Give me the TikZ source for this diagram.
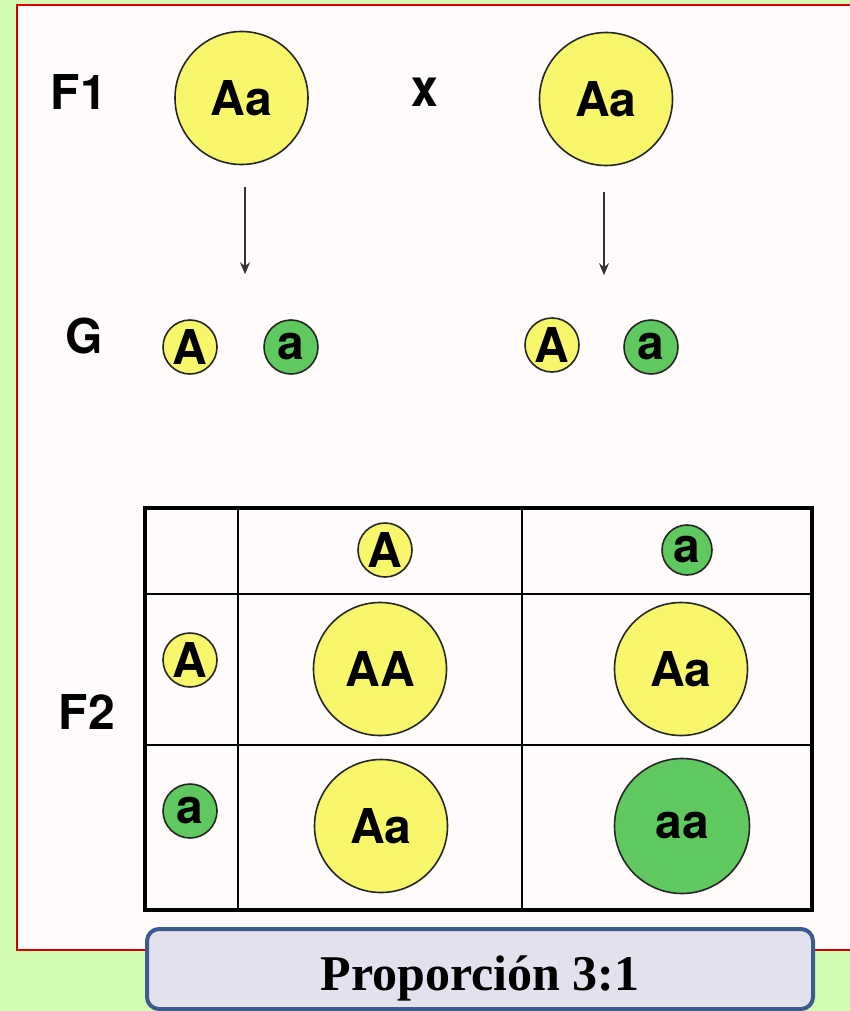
\documentclass[tikz,border=0pt]{standalone}
\usepackage{fontspec}
\usepackage{graphicx}
\setmainfont{Liberation Serif}
\setsansfont{TeX Gyre Heros}
\usetikzlibrary{arrows.meta,positioning}

\definecolor{fondo}{HTML}{D3FBB1}
\definecolor{hoja}{HTML}{FFFBFB}
\definecolor{marcorojo}{HTML}{D20000}
\definecolor{amarillo}{HTML}{F8F66A}
\definecolor{verde}{HTML}{5FC95F}
\definecolor{cajafondo}{HTML}{E4E1EE}
\definecolor{cajaborde}{HTML}{3C5A8B}

\tikzset{
  gen/.style={circle, draw=black!85, line width=0.8pt, inner sep=0pt,
    font=\sffamily\bfseries\fontsize{24}{25}\selectfont},
  grande/.style={gen, minimum size=66.5pt},
  chico/.style={gen, minimum size=27pt, font=\sffamily\bfseries\fontsize{24}{25}\selectfont},
  dom/.style={fill=amarillo},
  rec/.style={fill=verde},
  etiq/.style={font=\sffamily\bfseries\fontsize{24}{25}\selectfont},
  flecha/.style={-{Stealth[length=6pt,width=5pt]}, draw=black!80, line width=0.75pt},
  propbox/.style={draw=cajaborde, line width=2pt, fill=cajafondo, rounded corners=6pt,
    minimum width=333pt, minimum height=40pt, inner sep=0pt,
    text height=24pt, text depth=2.4pt,
    font=\bfseries\fontsize{25}{26}\selectfont},
}

\begin{document}
\begin{tikzpicture}[x=0.5pt, y=-0.5pt]
  \useasboundingbox (0,0) rectangle (850,1011);
  \clip (0,0) rectangle (850,1011);
  \fill[fondo] (0,0) rectangle (850,1011);
  \draw[marcorojo, line width=1pt, fill=hoja] (17,5) rectangle (880,950);

  % F1
  \node[etiq] (f1) at (79,92) {F1};
  \node[grande, dom] (p1) at (241.5,98) {Aa};
  \node[etiq] (cruce) at (425,92) {\scalebox{1}[1.1]{x}};
  \node[grande, dom] (p2) at (606,99) {Aa};

  % gametos
  \node[etiq] (g) at (84,336) {G};
  \node[chico, dom] (g1A) at (190,347) {A};
  \node[chico, rec] (g1a) at (291,347) {a};
  \node[chico, dom] (g2A) at (552,345) {A};
  \node[chico, rec] (g2a) at (651,347) {a};

  \draw[flecha, shorten <=11pt, shorten >=22.5pt] ([xshift=1.75pt]p1.south) -- ([xshift=1.75pt]p1.south |- g1A.north);
  \draw[flecha, shorten <=13pt, shorten >=21pt] ([xshift=-1pt]p2.south) -- ([xshift=-1pt]p2.south |- g2A.north);

  % cuadro de Punnett
  \draw[line width=2pt] (145,508) rectangle (812,910);
  \draw[line width=1pt] (238,508) -- (238,910);
  \draw[line width=1pt] (522,508) -- (522,910);
  \draw[line width=1pt] (145,594) -- (812,594);
  \draw[line width=1pt] (145,745) -- (812,745);

  \node[chico, dom] (hA) at (385,550) {A};
  \node[chico, rec, minimum size=25pt] (ha) at (687,550) {a};
  \node[chico, dom] (rA) at (190,660) {A};
  \node[chico, rec] (ra) at (190,811) {a};
  \node[etiq] (f2) at (87,712) {F2};

  \node[grande, dom] (AA) at (380,669) {AA};
  \node[grande, dom] (Aa1) at (681,669) {Aa};
  \node[grande, dom] (Aa2) at (381,826) {Aa};
  \node[grande, rec, minimum size=67.5pt] (aa) at (682,826) {aa};

  % resultado
  \node[propbox] (prop) at (480,969) {Proporción 3:1};
\end{tikzpicture}
\end{document}
